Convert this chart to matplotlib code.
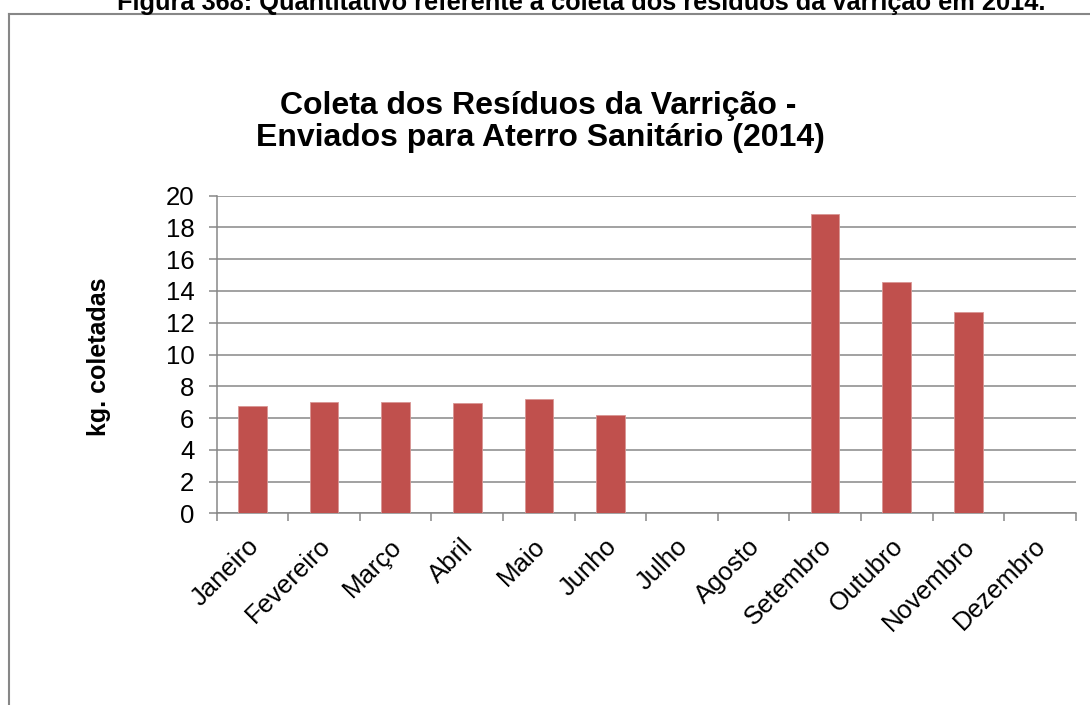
import matplotlib
matplotlib.use("Agg")
import matplotlib.pyplot as plt
from matplotlib.lines import Line2D
from matplotlib.transforms import ScaledTranslation
import numpy as np

plt.rcParams["font.family"] = ["Liberation Sans", "DejaVu Sans"]

# Dados (kg coletadas por mês)
meses = ["Janeiro", "Fevereiro", "Março", "Abril", "Maio", "Junho",
         "Julho", "Agosto", "Setembro", "Outubro", "Novembro", "Dezembro"]
valores = [6.78, 7.01, 6.98, 6.93, 7.22, 6.21,
           0, 0, 18.87, 14.57, 12.66, 0]
yticks = [0, 2, 4, 6, 8, 10, 12, 14, 16, 18, 20]

grey = "#878787"

fig = plt.figure(figsize=(10.9, 7.05), dpi=100)
ax = fig.add_axes([0.1988, 0.2719, 0.7881, 0.4505])

x = np.arange(len(meses))
ax.bar(x, valores, width=0.4, color="#C0504D", edgecolor="#D99694",
       linewidth=0.6, zorder=3)

ax.set_xlim(-0.5, len(meses) - 0.5)
ax.set_ylim(0, 20)
ax.set_yticks(yticks)
ax.set_yticklabels([str(v) for v in yticks], fontsize=18.5)
ax.yaxis.grid(True, color=grey, linewidth=1.1, zorder=0)

# marcas do eixo x entre as categorias
ax.set_xticks(np.arange(len(meses) + 1) - 0.5)
ax.set_xticklabels([])
ax.set_xticks(x, minor=True)
ax.set_xticklabels(meses, minor=True, rotation=45, ha="right",
                   rotation_mode="anchor", fontsize=18.5)
ax.tick_params(axis="x", which="minor", length=0, pad=12)
ax.tick_params(axis="x", which="major", length=6, width=1.1, color=grey)
ax.tick_params(axis="y", length=6, width=1.1, color=grey, pad=10)

# deslocar um pouco os rótulos dos meses (para baixo e à esquerda)
shift = ScaledTranslation(-0.06, -0.04, fig.dpi_scale_trans)
for lbl in ax.get_xticklabels(minor=True):
    lbl.set_transform(lbl.get_transform() + shift)

for side in ["top", "right"]:
    ax.spines[side].set_visible(False)
for side in ["left", "bottom"]:
    ax.spines[side].set_color(grey)
    ax.spines[side].set_linewidth(1.1)

fig.text(99 / 1090, 1 - 357 / 705, "kg. coletadas", rotation=90,
         ha="center", va="center", fontsize=18, fontweight="bold")

fig.text(0.494, 1 - 106 / 705, "Coleta dos Resíduos da Varrição -",
         ha="center", va="center", fontsize=23, fontweight="bold")
fig.text(0.496, 1 - 138 / 705, "Enviados para Aterro Sanitário (2014)",
         ha="center", va="center", fontsize=23, fontweight="bold")

# legenda da figura (cortada no topo) e moldura
fig.text(0.5335, 1 - 10 / 705, "Figura 368: Quantitativo referente à coleta "
         "dos resíduos da varrição em 2014.", ha="center", va="baseline",
         fontsize=18.3, fontweight="bold")
fig.add_artist(Line2D([9 / 1090, 1.0], [1 - 14 / 705, 1 - 14 / 705],
                      color=grey, linewidth=1.5))
fig.add_artist(Line2D([9 / 1090, 9 / 1090], [0, 1 - 14 / 705],
                      color=grey, linewidth=1.5))

fig.savefig("out.png", dpi=100)
